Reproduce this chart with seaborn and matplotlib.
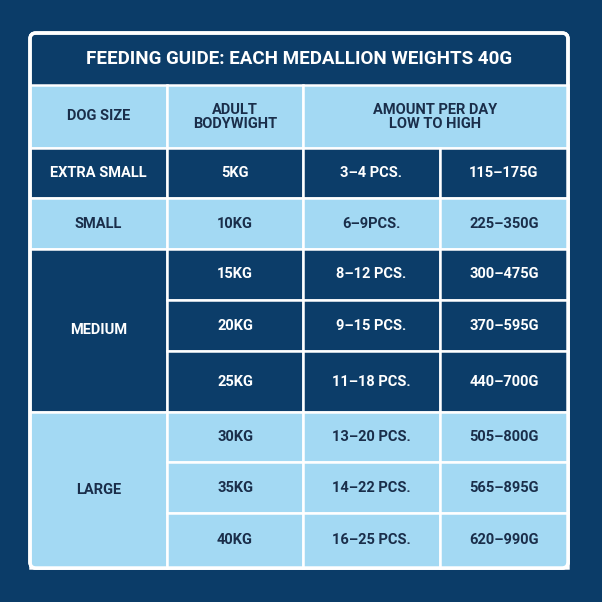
import matplotlib
matplotlib.use("Agg")
import matplotlib.pyplot as plt
import seaborn as sns
from matplotlib.patches import Rectangle, FancyBboxPatch

sns.set_theme(style="white")
plt.rcParams['font.family'] = ['Roboto', 'DejaVu Sans']

title = "FEEDING GUIDE: EACH MEDALLION WEIGHTS 40G"
headers = ["DOG SIZE", "ADULT\nBODYWIGHT", "AMOUNT PER DAY\nLOW TO HIGH"]
sizes = ["EXTRA SMALL", "SMALL", "MEDIUM", "LARGE"]
size_rows = [1, 1, 3, 3]
weights = ["5KG", "10KG", "15KG", "20KG", "25KG", "30KG", "35KG", "40KG"]
pieces = ["3–4 PCS.", "6–9PCS.", "8–12 PCS.", "9–15 PCS.", "11–18 PCS.",
          "13–20 PCS.", "14–22 PCS.", "16–25 PCS."]
grams = ["115–175G", "225–350G", "300–475G", "370–595G", "440–700G",
         "505–800G", "565–895G", "620–990G"]

BG = "#0b3c68"
DARK = "#0c3d69"
LIGHT = "#a3d9f3"
TXT_D = "#1a2e4a"
cols = [30, 167, 303, 440, 568]
row_edges = [148, 198, 249, 300, 351, 412, 462, 513, 568]

fig = plt.figure(figsize=(6.02, 6.02), dpi=100)
fig.patch.set_facecolor(BG)
ax = fig.add_axes([0, 0, 1, 1])
ax.set_xlim(0, 602); ax.set_ylim(602, 0); ax.axis("off")
ax.set_facecolor(BG)

ax.add_patch(FancyBboxPatch((30, 33), 538, 535, boxstyle="round,pad=0,rounding_size=6",
                            fc=DARK, ec="white", lw=2.5, zorder=1))
ax.text(299, 59, title, color="white", fontsize=13.5, fontweight="bold",
        ha="center", va="center", zorder=5)

def cell(x0, x1, y0, y1, color, text):
    ax.add_patch(Rectangle((x0, y0), x1 - x0, y1 - y0, fc=color, ec="white", lw=1.8, zorder=2))
    ax.text((x0 + x1) / 2, (y0 + y1) / 2, text, color="white" if color == DARK else TXT_D,
            fontsize=10.5, fontweight="bold", ha="center", va="center", zorder=5, linespacing=1.0)

cell(cols[0], cols[1], 85, 148, LIGHT, headers[0])
cell(cols[1], cols[2], 85, 148, LIGHT, headers[1])
cell(cols[2], cols[4], 85, 148, LIGHT, headers[2])

r = 0
for gi, (s, n) in enumerate(zip(sizes, size_rows)):
    color = DARK if gi % 2 == 0 else LIGHT
    cell(cols[0], cols[1], row_edges[r], row_edges[r + n], color, s)
    for k in range(r, r + n):
        y0, y1 = row_edges[k], row_edges[k + 1]
        cell(cols[1], cols[2], y0, y1, color, weights[k])
        cell(cols[2], cols[3], y0, y1, color, pieces[k])
        cell(cols[3], cols[4], y0, y1, color, grams[k])
    r += n

ax.add_patch(FancyBboxPatch((30, 33), 538, 535, boxstyle="round,pad=0,rounding_size=6",
                            fc="none", ec="white", lw=2.5, zorder=6))
fig.savefig("out.png", dpi=100, facecolor=BG)
